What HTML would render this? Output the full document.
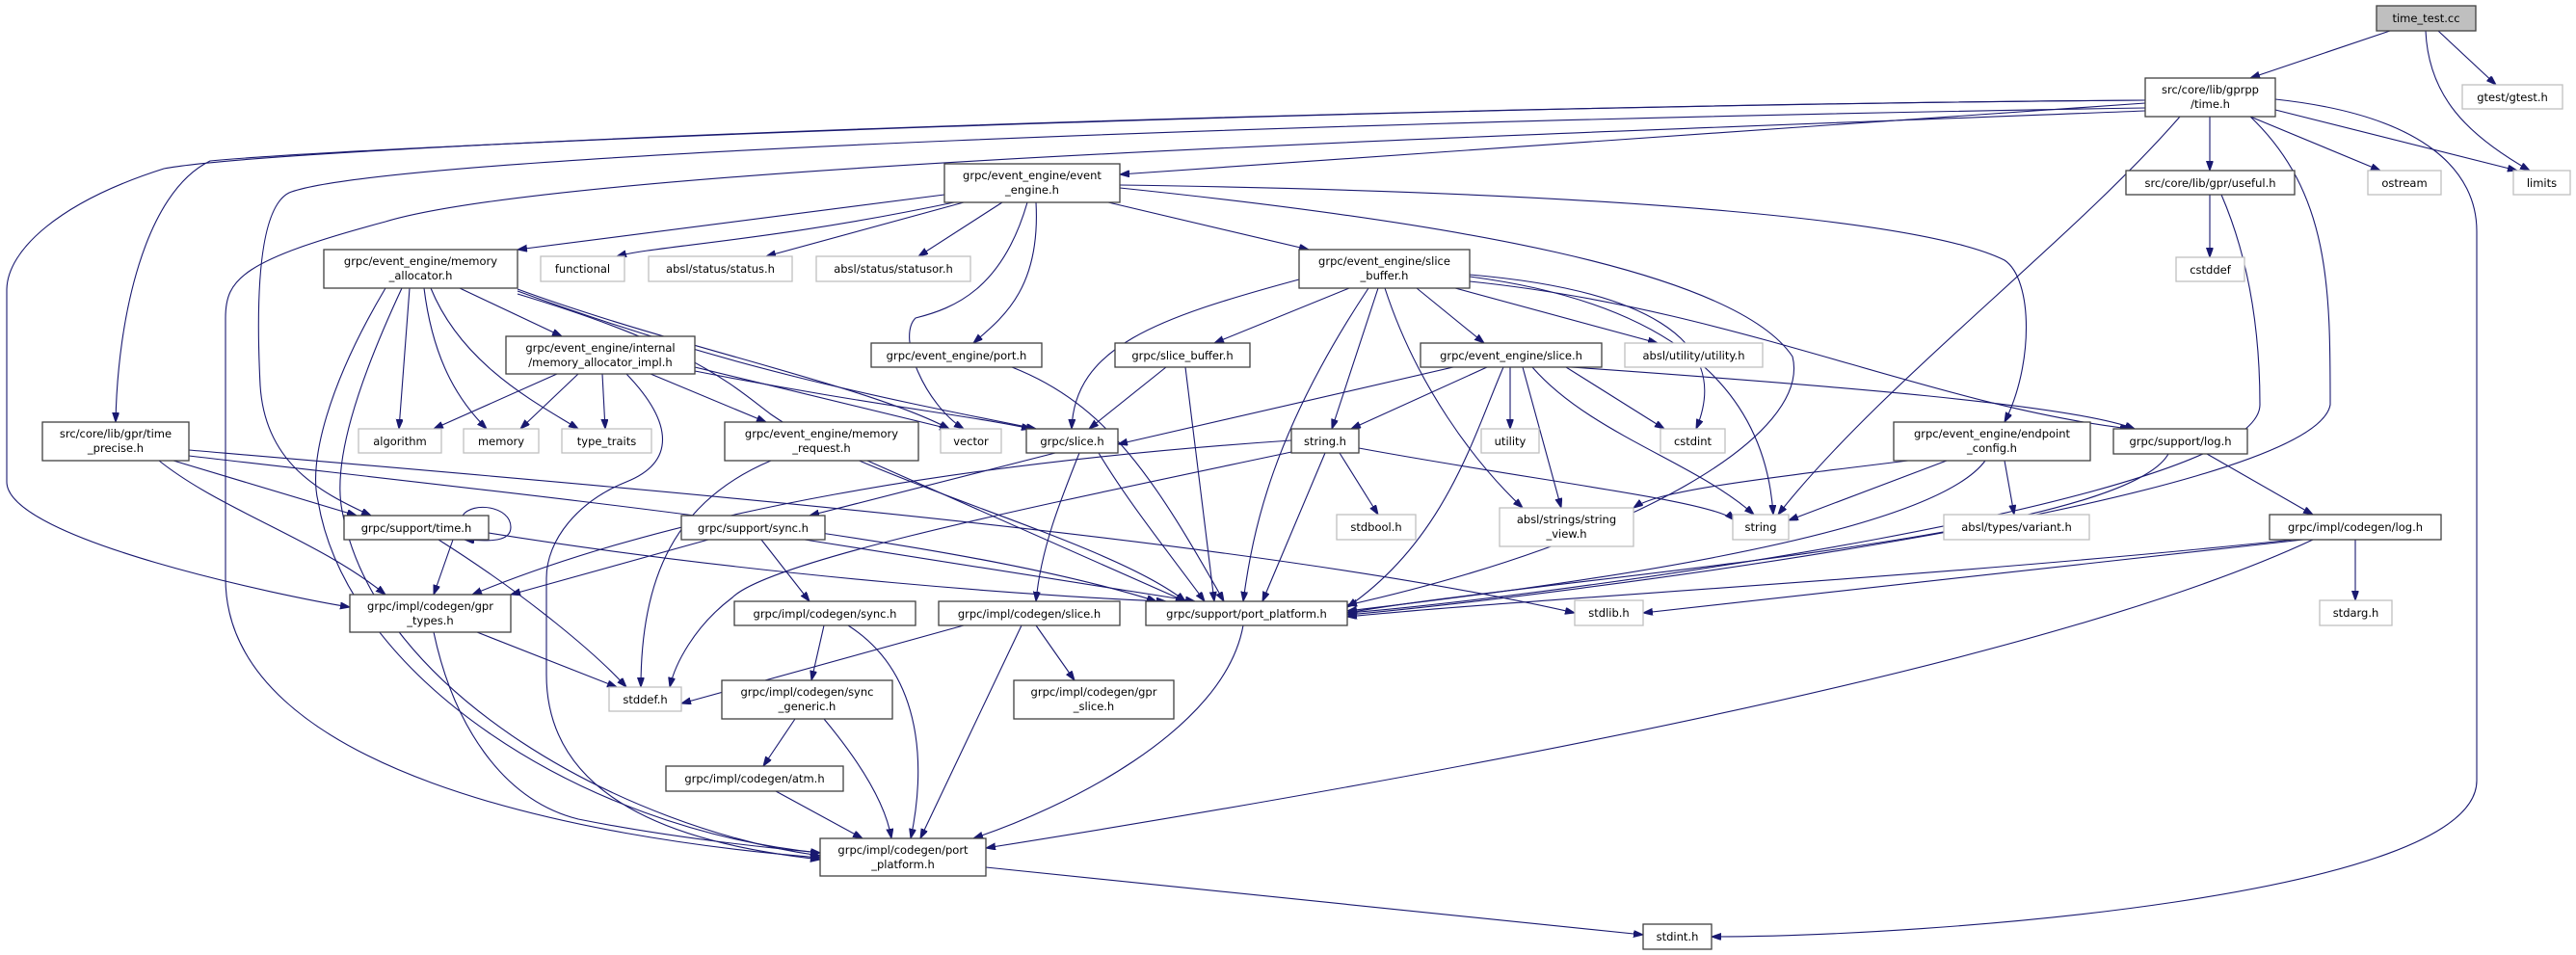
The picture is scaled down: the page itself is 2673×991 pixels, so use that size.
<!DOCTYPE html>
<html><head><meta charset="utf-8"><style>
html,body{margin:0;padding:0;background:#fff;}
svg{display:block;}
text{font-family:"DejaVu Sans","Liberation Sans",sans-serif;font-size:11.5px;fill:#000;text-anchor:middle;}
.e{fill:none;stroke:#191970;stroke-width:1.1;marker-end:url(#ar);}
.b{fill:#fff;stroke:#404040;stroke-width:1.3;}
.g{fill:#fff;stroke:#bfbfbf;stroke-width:1.3;}
.f{fill:#bfbfbf;stroke:#404040;stroke-width:1.3;}
</style></head><body>
<svg width="2673" height="991" viewBox="0 0 2673 991" xmlns="http://www.w3.org/2000/svg">
<defs><marker id="ar" markerUnits="userSpaceOnUse" markerWidth="11" markerHeight="8" refX="10" refY="3.5" orient="auto"><path d="M0,0 L10,3.5 L0,7 z" fill="#191970" stroke="#191970"/></marker></defs>
<g>
<path class="e" d="M2480,32 L2335,81"/>
<path class="e" d="M2530,32 L2590,88"/>
<path class="e" d="M2517,32 C2520,100 2560,140 2625,177"/>
<path class="e" d="M2293,121 L2293,177"/>
<path class="e" d="M2335,121 L2470,177"/>
<path class="e" d="M2361,114 L2612,177"/>
<path class="e" d="M2226,107 L1162,181"/>
<path class="e" d="M2226,104 C1400,110 400,150 218,167 C150,200 122,330 120,438"/>
<path class="e" d="M2226,104 C1400,110 300,150 170,175 C60,210 8,260 7,300 L7,500 C7,560 300,620 363,630"/>
<path class="e" d="M2226,115 C1600,140 600,170 400,230 C250,270 234,290 234,330 L234,600 C234,800 600,870 851,890"/>
<path class="e" d="M2226,112 C1400,125 400,160 300,200 C270,215 265,300 270,400 C275,480 330,510 385,535"/>
<path class="e" d="M2262,121 C2150,250 1950,400 1845,534"/>
<path class="e" d="M2335,121 C2418,200 2418,300 2418,420 C2400,520 1600,620 1398,638"/>
<path class="e" d="M2305,202 C2330,260 2345,330 2345,420 C2345,520 1600,620 1398,636"/>
<path class="e" d="M2361,103 C2520,120 2570,180 2570,240 L2570,810 C2570,930 2000,972 1776,972"/>
<path class="e" d="M2293,202 L2293,267"/>
<path class="e" d="M980,202 L537,259"/>
<path class="e" d="M990,210 C800,250 680,255 640,266"/>
<path class="e" d="M1000,210 L795,266"/>
<path class="e" d="M1040,210 L953,266"/>
<path class="e" d="M1150,210 L1358,259"/>
<path class="e" d="M1075,210 C1080,300 1040,330 1010,356"/>
<path class="e" d="M1066,210 C1040,300 990,320 950,330 C930,350 960,420 1000,445"/>
<path class="e" d="M1162,192 C1700,200 2000,230 2080,270 C2110,290 2110,380 2080,438"/>
<path class="e" d="M1162,195 C1500,230 1800,280 1860,370 C1880,450 1700,560 1398,628"/>
<path class="e" d="M425,299 L414,445"/>
<path class="e" d="M440,299 C450,380 480,420 505,445"/>
<path class="e" d="M447,299 C480,380 560,420 600,445"/>
<path class="e" d="M477,299 L583,349"/>
<path class="e" d="M537,300 C700,360 900,400 985,445"/>
<path class="e" d="M537,302 C750,380 900,410 1075,445"/>
<path class="e" d="M537,305 C720,360 760,400 800,430 C900,500 1150,560 1230,624"/>
<path class="e" d="M400,299 C340,400 320,480 330,520 C360,700 600,860 851,885"/>
<path class="e" d="M417,299 C370,400 345,480 355,530 C390,720 650,860 851,888"/>
<path class="e" d="M578,388 L450,445"/>
<path class="e" d="M600,388 L540,445"/>
<path class="e" d="M625,388 L628,445"/>
<path class="e" d="M675,388 L795,438"/>
<path class="e" d="M721,381 L985,445"/>
<path class="e" d="M721,385 C900,420 1000,430 1070,445"/>
<path class="e" d="M650,388 C700,440 700,480 650,500 C600,520 567,560 567,600 L567,700 C567,850 750,880 851,892"/>
<path class="e" d="M900,478 L1230,624"/>
<path class="e" d="M800,478 C700,520 665,600 665,713"/>
<path class="e" d="M180,478 L370,535"/>
<path class="e" d="M165,478 C230,530 330,560 400,617"/>
<path class="e" d="M196,467 C700,510 1300,560 1634,636"/>
<path class="e" d="M196,473 C600,520 1000,560 1200,624"/>
<path class="e" d="M480,535 C490,520 530,525 530,547 C530,562 510,562 482,560"/>
<path class="e" d="M470,560 L450,617"/>
<path class="e" d="M455,560 C550,620 620,680 650,713"/>
<path class="e" d="M507,553 C800,600 1100,620 1210,624"/>
<path class="e" d="M735,560 L530,617"/>
<path class="e" d="M790,560 L840,624"/>
<path class="e" d="M835,560 L1240,624"/>
<path class="e" d="M1095,470 L840,535"/>
<path class="e" d="M1120,470 C1100,520 1080,570 1075,624"/>
<path class="e" d="M1140,470 C1170,520 1210,570 1250,624"/>
<path class="e" d="M1050,381 C1150,420 1200,500 1270,624"/>
<path class="e" d="M1210,381 L1130,445"/>
<path class="e" d="M1230,381 L1260,624"/>
<path class="e" d="M1400,299 L1260,356"/>
<path class="e" d="M1470,299 L1540,356"/>
<path class="e" d="M1348,290 C1200,330 1115,360 1112,445"/>
<path class="e" d="M1430,299 L1382,445"/>
<path class="e" d="M1420,299 C1320,450 1300,550 1290,624"/>
<path class="e" d="M1437,299 C1470,400 1530,480 1580,527"/>
<path class="e" d="M1510,299 L1720,356"/>
<path class="e" d="M1525,285 C1700,300 1800,350 1760,445"/>
<path class="e" d="M1525,287 C1700,310 1830,380 1840,534"/>
<path class="e" d="M1525,292 C1800,320 2000,420 2210,445"/>
<path class="e" d="M1508,381 L1160,461"/>
<path class="e" d="M1543,381 L1402,445"/>
<path class="e" d="M1567,381 L1567,445"/>
<path class="e" d="M1625,381 L1727,445"/>
<path class="e" d="M1580,381 L1620,527"/>
<path class="e" d="M1590,381 C1650,450 1760,480 1820,534"/>
<path class="e" d="M1560,381 C1530,450 1500,560 1398,630"/>
<path class="e" d="M1630,381 C1900,400 2150,420 2215,445"/>
<path class="e" d="M1410,465 C1600,500 1780,520 1800,540"/>
<path class="e" d="M1390,470 L1430,534"/>
<path class="e" d="M1375,470 L1310,624"/>
<path class="e" d="M1345,468 C1100,520 800,580 760,620 C720,650 700,690 695,713"/>
<path class="e" d="M1340,457 C1000,480 700,530 490,617"/>
<path class="e" d="M1980,478 C1800,500 1720,510 1695,527"/>
<path class="e" d="M2020,478 L1856,540"/>
<path class="e" d="M2080,478 L2090,534"/>
<path class="e" d="M2060,478 C2000,560 1600,610 1398,634"/>
<path class="e" d="M2290,471 L2400,534"/>
<path class="e" d="M2250,471 C2200,560 1600,600 1398,636"/>
<path class="e" d="M2444,560 L2444,623"/>
<path class="e" d="M2390,560 L1705,636"/>
<path class="e" d="M2380,560 C2000,600 1600,620 1398,640"/>
<path class="e" d="M2400,560 C2100,700 1400,820 1023,880"/>
<path class="e" d="M495,656 L640,713"/>
<path class="e" d="M450,656 C470,750 520,830 600,850 C700,870 800,880 851,885"/>
<path class="e" d="M855,649 L842,706"/>
<path class="e" d="M880,649 C960,700 960,800 945,870"/>
<path class="e" d="M1000,649 L707,730"/>
<path class="e" d="M1075,649 L1115,706"/>
<path class="e" d="M1060,649 L955,870"/>
<path class="e" d="M1290,649 C1270,760 1100,840 1010,870"/>
<path class="e" d="M825,746 L792,795"/>
<path class="e" d="M855,746 C900,800 920,840 925,870"/>
<path class="e" d="M805,821 L895,870"/>
<path class="e" d="M1023,900 L1705,970"/>
</g>
<g>
<rect class="f" x="2466" y="6" width="103" height="26"/><text x="2517.5" y="23">time_test.cc</text>
<rect class="b" x="2226" y="81" width="135" height="40"/><text x="2293.5" y="97">src/core/lib/gprpp</text><text x="2293.5" y="112">/time.h</text>
<rect class="g" x="2555" y="88" width="104" height="25"/><text x="2607" y="105">gtest/gtest.h</text>
<rect class="b" x="2206" y="177" width="175" height="25"/><text x="2293.5" y="194">src/core/lib/gpr/useful.h</text>
<rect class="g" x="2457" y="177" width="76" height="25"/><text x="2495" y="194">ostream</text>
<rect class="g" x="2608" y="177" width="59" height="25"/><text x="2637.5" y="194">limits</text>
<rect class="g" x="2258" y="267" width="71" height="25"/><text x="2293.5" y="284">cstddef</text>
<rect class="b" x="1965" y="438" width="204" height="40"/><text x="2067" y="454">grpc/event_engine/endpoint</text><text x="2067" y="469">_config.h</text>
<rect class="b" x="2193" y="445" width="139" height="26"/><text x="2262.5" y="462">grpc/support/log.h</text>
<rect class="b" x="980" y="170" width="182" height="40"/><text x="1071" y="186">grpc/event_engine/event</text><text x="1071" y="201">_engine.h</text>
<rect class="b" x="336" y="259" width="201" height="40"/><text x="436.5" y="275">grpc/event_engine/memory</text><text x="436.5" y="290">_allocator.h</text>
<rect class="g" x="561" y="266" width="87" height="26"/><text x="604.5" y="283">functional</text>
<rect class="g" x="673" y="266" width="149" height="26"/><text x="747.5" y="283">absl/status/status.h</text>
<rect class="g" x="847" y="266" width="160" height="26"/><text x="927" y="283">absl/status/statusor.h</text>
<rect class="b" x="1348" y="259" width="177" height="40"/><text x="1436.5" y="275">grpc/event_engine/slice</text><text x="1436.5" y="290">_buffer.h</text>
<rect class="b" x="525" y="349" width="196" height="39"/><text x="623" y="365">grpc/event_engine/internal</text><text x="623" y="380">/memory_allocator_impl.h</text>
<rect class="b" x="904" y="356" width="177" height="25"/><text x="992.5" y="373">grpc/event_engine/port.h</text>
<rect class="b" x="1157" y="356" width="140" height="25"/><text x="1227" y="373">grpc/slice_buffer.h</text>
<rect class="b" x="1474" y="356" width="188" height="25"/><text x="1568" y="373">grpc/event_engine/slice.h</text>
<rect class="g" x="1686" y="356" width="143" height="25"/><text x="1757.5" y="373">absl/utility/utility.h</text>
<rect class="g" x="372" y="445" width="86" height="25"/><text x="415" y="462">algorithm</text>
<rect class="g" x="481" y="445" width="78" height="25"/><text x="520" y="462">memory</text>
<rect class="g" x="583" y="445" width="93" height="25"/><text x="629.5" y="462">type_traits</text>
<rect class="b" x="752" y="438" width="201" height="40"/><text x="852.5" y="454">grpc/event_engine/memory</text><text x="852.5" y="469">_request.h</text>
<rect class="g" x="976" y="445" width="63" height="25"/><text x="1007.5" y="462">vector</text>
<rect class="b" x="1065" y="445" width="95" height="25"/><text x="1112.5" y="462">grpc/slice.h</text>
<rect class="b" x="1340" y="445" width="70" height="25"/><text x="1375" y="462">string.h</text>
<rect class="g" x="1537" y="445" width="60" height="25"/><text x="1567" y="462">utility</text>
<rect class="g" x="1723" y="445" width="67" height="25"/><text x="1756.5" y="462">cstdint</text>
<rect class="b" x="44" y="438" width="152" height="40"/><text x="120" y="454">src/core/lib/gpr/time</text><text x="120" y="469">_precise.h</text>
<rect class="b" x="357" y="535" width="150" height="25"/><text x="432" y="552">grpc/support/time.h</text>
<rect class="b" x="707" y="535" width="149" height="25"/><text x="781.5" y="552">grpc/support/sync.h</text>
<rect class="g" x="1387" y="534" width="82" height="26"/><text x="1428" y="551">stdbool.h</text>
<rect class="g" x="1556" y="527" width="139" height="40"/><text x="1625.5" y="543">absl/strings/string</text><text x="1625.5" y="558">_view.h</text>
<rect class="g" x="1798" y="534" width="58" height="26"/><text x="1827" y="551">string</text>
<rect class="g" x="2017" y="534" width="151" height="26"/><text x="2092.5" y="551">absl/types/variant.h</text>
<rect class="b" x="2355" y="534" width="178" height="26"/><text x="2444" y="551">grpc/impl/codegen/log.h</text>
<rect class="b" x="363" y="617" width="167" height="39"/><text x="446.5" y="633">grpc/impl/codegen/gpr</text><text x="446.5" y="648">_types.h</text>
<rect class="b" x="762" y="624" width="188" height="25"/><text x="856" y="641">grpc/impl/codegen/sync.h</text>
<rect class="b" x="974" y="624" width="188" height="25"/><text x="1068" y="641">grpc/impl/codegen/slice.h</text>
<rect class="b" x="1189" y="624" width="209" height="25"/><text x="1293.5" y="641">grpc/support/port_platform.h</text>
<rect class="g" x="1634" y="623" width="71" height="26"/><text x="1669.5" y="640">stdlib.h</text>
<rect class="g" x="2407" y="623" width="75" height="26"/><text x="2444.5" y="640">stdarg.h</text>
<rect class="g" x="632" y="713" width="75" height="25"/><text x="669.5" y="730">stddef.h</text>
<rect class="b" x="749" y="706" width="177" height="40"/><text x="837.5" y="722">grpc/impl/codegen/sync</text><text x="837.5" y="737">_generic.h</text>
<rect class="b" x="1052" y="706" width="166" height="40"/><text x="1135" y="722">grpc/impl/codegen/gpr</text><text x="1135" y="737">_slice.h</text>
<rect class="b" x="691" y="795" width="184" height="26"/><text x="783" y="812">grpc/impl/codegen/atm.h</text>
<rect class="b" x="851" y="870" width="172" height="39"/><text x="937" y="886">grpc/impl/codegen/port</text><text x="937" y="901">_platform.h</text>
<rect class="b" x="1705" y="959" width="71" height="26"/><text x="1740.5" y="976">stdint.h</text>
</g>
</svg>
</body></html>
